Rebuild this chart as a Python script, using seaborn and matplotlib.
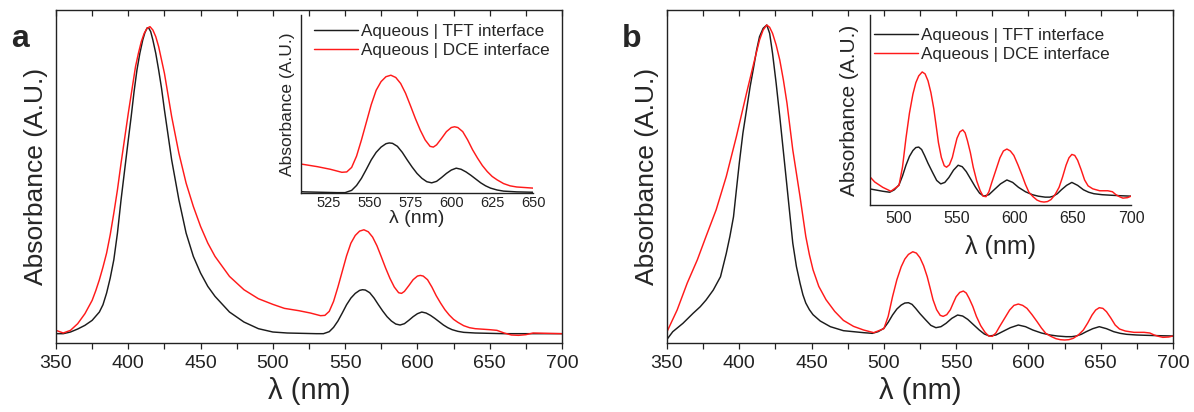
import numpy as np
import pandas as pd
import matplotlib
matplotlib.use("Agg")
import matplotlib.pyplot as plt
from matplotlib.ticker import MultipleLocator
import seaborn as sns

# ---------------- data ----------------
series_labels = ["Aqueous | TFT interface", "Aqueous | DCE interface"]
series_colors = ["#1c1c1c", "#ff1a1a"]

# Panel a
wl_a_tft = [350, 355, 360, 365, 370, 375, 380, 382.5, 385, 387.5, 390, 392.5, 395, 397.5, 400, 402,
            404, 406, 408, 410, 411.5, 413, 414, 415.5, 417, 419, 421, 423, 425, 427.5, 430, 432.5,
            435, 440, 445, 450, 455, 460, 470, 480, 490, 500, 510, 520, 530, 535,
            539, 542, 545, 548, 551, 554, 557, 560, 562, 564, 567, 570, 573, 576, 579, 582,
            585, 588, 591, 594, 597, 600, 603, 606, 609, 612, 615, 618, 621, 624, 628, 632,
            640, 650, 660, 680, 700]
abs_a_tft = [.028, .028, .033, .042, .053, .068, .093, .115, .15, .195, .25, .33, .43, .52, .61, .68,
             .755, .82, .87, .91, .932, .946, .947, .935, .91, .87, .82, .765, .70, .625, .55, .49,
             .43, .33, .26, .21, .17, .14, .093, .063, .043, .033, .030, .029, .028, .028,
             .034, .047, .066, .09, .115, .135, .149, .158, .160, .159, .151, .135, .115, .096, .079, .066,
             .057, .054, .058, .068, .079, .088, .093, .090, .083, .074, .064, .054, .046, .040, .035, .032,
             .030, .029, .028, .028, .028]

wl_a_dce = [350, 355, 360, 365, 370, 375, 377.5, 380, 382.5, 385, 387.5, 390, 392.5, 395, 397.5, 400,
            402.5, 405, 407, 409, 411, 413, 415, 417, 419, 421, 423, 425, 427.5, 430, 435, 440,
            445, 450, 455, 460, 470, 480, 490, 500, 508, 518, 526, 533, 536,
            539, 542, 545, 548, 551, 554, 557, 560, 563, 566, 569, 572, 575, 578, 581, 584,
            587, 589, 591, 594, 597, 600, 602, 604, 607, 610, 613, 616, 619, 622, 625, 628,
            632, 636, 640, 650, 655, 660, 665, 670, 675, 680, 690, 700]
abs_a_dce = [.038, .030, .038, .058, .088, .128, .157, .19, .228, .27, .325, .39, .46, .54, .615, .69,
             .76, .83, .87, .905, .93, .945, .95, .94, .92, .89, .85, .81, .745, .68, .57, .48,
             .41, .35, .30, .26, .20, .16, .133, .116, .104, .097, .090, .082, .083,
             .095, .125, .168, .215, .262, .30, .323, .336, .340, .334, .318, .292, .259, .225, .194, .168,
             .151, .149, .155, .172, .19, .201, .203, .201, .19, .168, .142, .12, .10, .084, .071, .062,
             .052, .046, .043, .040, .038, .030, .024, .023, .025, .030, .029, .028]

# Panel b
wl_b_tft = [350, 354, 361, 368, 373, 377, 382, 387, 391, 393.5, 396, 398, 400, 402.5, 405, 407.5,
            410, 412, 414, 416.5, 419, 421, 423, 425.5, 428, 430.5, 433, 435, 437, 439.5, 442, 444,
            446, 448.5, 451, 456, 463, 472, 479, 486, 492, 496, 500, 503, 506, 509, 512, 514.5,
            517, 519.5, 522, 525, 529, 532.5, 536, 539.5, 543, 547, 551, 554.5, 558, 562, 566, 569.5,
            573, 577.5, 582, 587.5, 593, 598, 603, 609, 615, 620, 626, 630, 633, 636.5, 640, 644.5,
            649, 654, 659, 663.5, 668, 675, 682, 690, 700]
abs_b_tft = [.011, .034, .059, .089, .109, .129, .159, .199, .269, .32, .379, .46, .54, .63, .70, .77,
             .83, .88, .92, .945, .955, .93, .87, .78, .68, .575, .47, .385, .30, .23, .18, .145,
             .12, .10, .085, .066, .049, .037, .034, .031, .029, .034, .044, .062, .084, .102, .114, .12,
             .121, .116, .104, .088, .069, .053, .046, .049, .059, .074, .084, .081, .071, .055, .039, .027,
             .021, .024, .034, .046, .054, .049, .039, .030, .024, .021, .019, .019, .021, .026, .034, .043,
             .049, .043, .034, .029, .026, .024, .023, .022, .021]

wl_b_dce = [350, 357, 364, 371, 377, 384, 391, 398, 405, 410, 414, 416.5, 419, 421, 423, 425.5,
            428, 430.5, 433, 435, 437, 439.5, 442, 444, 446, 448.5, 451, 455, 460, 466, 472, 479,
            486, 493, 500, 503, 506, 509, 512, 514.5, 517, 520, 522.5, 525, 527.5, 530, 532, 534,
            536.5, 539, 541, 543.5, 546, 548, 550, 552.5, 555, 557, 559, 561.5, 564, 567, 570, 572.5,
            575, 577.5, 580, 583.5, 587, 590, 593, 596, 599, 602.5, 606, 609, 612, 615.5, 619, 622,
            625, 628, 631, 634.5, 638, 641, 644, 646.5, 649, 651.5, 654, 657, 660, 663, 667, 673,
            680, 684, 687, 690, 693, 697, 700]
abs_b_dce = [.034, .099, .18, .25, .32, .40, .50, .62, .75, .84, .91, .94, .955, .948, .93, .895,
             .85, .79, .72, .65, .58, .51, .44, .38, .32, .265, .22, .17, .13, .095, .068, .05,
             .039, .031, .043, .08, .139, .19, .229, .252, .266, .274, .27, .256, .232, .199, .165, .13,
             .10, .083, .08, .085, .10, .12, .139, .152, .156, .15, .134, .11, .08, .052, .032, .021,
             .02, .03, .049, .074, .099, .113, .117, .113, .104, .085, .064, .045, .029, .02, .013, .01,
             .009, .01, .014, .024, .039, .06, .084, .099, .106, .104, .094, .075, .054, .042, .036, .032,
             .032, .03, .024, .02, .017, .018, .021]

main_ticks = [350, 400, 450, 500, 550, 600, 650, 700]
inset_a_ticks = [525, 550, 575, 600, 625, 650]
inset_b_ticks = [500, 550, 600, 650, 700]

# ---------------- styling ----------------
sns.set_style("white")
plt.rcParams["font.family"] = ["Liberation Sans", "DejaVu Sans"]
plt.rcParams["axes.linewidth"] = 1.0

W, H = 1194, 412
fig = plt.figure(figsize=(W / 100, H / 100), dpi=100)


def fbox(x0, y0, x1, y1):
    return [x0 / W, 1 - y1 / H, (x1 - x0) / W, (y1 - y0) / H]


def make_df(wl_t, ab_t, wl_d, ab_d):
    return pd.concat([
        pd.DataFrame({"wl": wl_t, "abs": ab_t, "s": series_labels[0]}),
        pd.DataFrame({"wl": wl_d, "abs": ab_d, "s": series_labels[1]}),
    ], ignore_index=True)


df_a = make_df(wl_a_tft, abs_a_tft, wl_a_dce, abs_a_dce)
df_b = make_df(wl_b_tft, abs_b_tft, wl_b_dce, abs_b_dce)
palette = dict(zip(series_labels, series_colors))


def main_panel(box, df, letter, letter_pos):
    ax = fig.add_axes(fbox(*box))
    sns.lineplot(data=df, x="wl", y="abs", hue="s", palette=palette, estimator=None,
                 sort=False, lw=1.05, legend=False, ax=ax)
    ax.set_xlim(350, 700)
    ax.set_ylim(0, 1)
    ax.set_xticks(main_ticks)
    ax.xaxis.set_minor_locator(MultipleLocator(25))
    ax.set_yticks([])
    for s in ax.spines.values():
        s.set_visible(True)
        s.set_color("#222222")
    ax.tick_params(axis="x", which="both", bottom=True, top=True, direction="out",
                   length=4, width=0.9, labelsize=14, pad=5, colors="#222222")
    for t in ax.xaxis.get_major_ticks() + ax.xaxis.get_minor_ticks():
        t.tick2line.set_marker(3)  # top ticks point inward
    ax.set_xlabel("λ (nm)", fontsize=21, labelpad=3)
    ax.set_ylabel("Absorbance (A.U.)", fontsize=19, labelpad=6)
    fig.text(letter_pos[0] / W, 1 - letter_pos[1] / H, letter, fontsize=23,
             fontweight="bold", va="baseline", ha="left")
    return ax


def inset_panel(box, df, xlim, ylim, ticks, tsize, xls, yls, xpad, ypad, tpad, leg_anchor):
    ax = fig.add_axes(fbox(*box))
    sns.lineplot(data=df, x="wl", y="abs", hue="s", palette=palette, estimator=None,
                 sort=False, lw=1.05, ax=ax)
    ax.set_xlim(*xlim)
    ax.set_ylim(*ylim)
    ax.set_xticks(ticks)
    ax.set_yticks([])
    ax.patch.set_alpha(0)
    for k in ["top", "right"]:
        ax.spines[k].set_visible(False)
    for k in ["left", "bottom"]:
        ax.spines[k].set_visible(True)
        ax.spines[k].set_color("#222222")
    ax.tick_params(axis="x", length=0, labelsize=tsize, pad=tpad, colors="#222222")
    ax.set_xlabel("λ (nm)", fontsize=xls, labelpad=xpad)
    ax.set_ylabel("Absorbance (A.U.)", fontsize=yls, labelpad=ypad)
    handles, labels = ax.get_legend_handles_labels()
    ax.legend(handles, labels, loc="upper left", bbox_to_anchor=(leg_anchor[0] / W, 1 - leg_anchor[1] / H),
              bbox_transform=fig.transFigure, frameon=False, fontsize=12.3, handlelength=2.6,
              handletextpad=0.15, labelspacing=0.25, borderpad=0, borderaxespad=0)
    return ax


main_panel((56, 10, 562, 343), df_a, "a", (11, 47))
main_panel((667, 10, 1173, 343), df_b, "b", (622, 47))

inset_panel((301, 15, 533, 193), df_a, (508, 650), (0.027, 0.5), inset_a_ticks,
            10.5, 14, 12.5, 0, 4, 2, (314, 24))
inset_panel((870, 15, 1131, 205), df_b, (475, 700), (0.003, 0.39), inset_b_ticks,
            11.5, 18, 15, 7, 8, 4, (874, 28))

fig.savefig("out.png", dpi=100)
